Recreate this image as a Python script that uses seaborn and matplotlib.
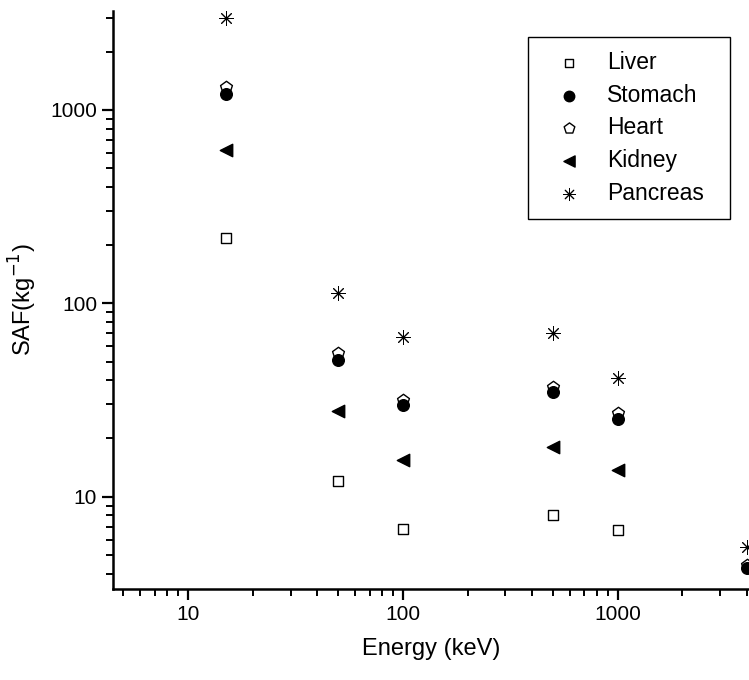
"""
plot.py
Specific absorbed fraction (SAF) vs. photon energy for several organs.
"""

import numpy as np
import pandas as pd
import matplotlib
matplotlib.use("Agg")
import matplotlib.pyplot as plt
import seaborn as sns
from matplotlib.ticker import LogLocator, NullFormatter, FixedLocator, FixedFormatter

# ── Data ─────────────────────────────────────────────────────────────────────

energy = [15, 50, 100, 500, 1000, 4000]

liver    = [218, 12.1, 6.8, 8.0, 6.75, np.nan]
stomach  = [1205, 50.9, 29.9, 34.9, 25.1, 4.27]
heart    = [1315, 55.2, 31.8, 36.8, 27.1, 4.44]
kidney   = [621, 27.7, 15.5, 18.1, 13.7, np.nan]
pancreas = [2990, 112.6, 66.7, 70.3, 41.1, 5.52]

organs = ["Liver", "Stomach", "Heart", "Kidney", "Pancreas"]
series = [liver, stomach, heart, kidney, pancreas]

x_ticks = [10, 100, 1000]
y_ticks = [10, 100, 1000]

# ── Styling ──────────────────────────────────────────────────────────────────

sns.set_style("ticks")
plt.rcParams["font.family"] = ["Liberation Sans", "DejaVu Sans"]
plt.rcParams["text.color"] = "black"
plt.rcParams["axes.labelcolor"] = "black"

styles = {
    "Liver":    dict(marker="s",       s=48, facecolor="white", linewidth=1.0),
    "Stomach":  dict(marker="o",       s=70, facecolor="black", linewidth=1.0),
    "Heart":    dict(marker="p",       s=80, facecolor="white", linewidth=1.0),
    "Kidney":   dict(marker="<",       s=80, facecolor="black", linewidth=1.0),
    "Pancreas": dict(marker=(8, 2, 0), s=95, facecolor="black", linewidth=0.7),
}

df = pd.DataFrame({"Energy": energy * len(organs),
                   "SAF": sum(series, []),
                   "Organ": np.repeat(organs, len(energy))})

fig = plt.figure(figsize=(7.49, 6.80), dpi=100)
ax = fig.add_axes([0.151, 0.1334, 0.849, 0.8505])

# draw Heart before Stomach so the filled circle sits on top, as in the source
order = ["Liver", "Heart", "Stomach", "Kidney", "Pancreas"]
for name in order:
    sub = df[df["Organ"] == name].dropna()
    st = styles[name]
    sns.scatterplot(data=sub, x="Energy", y="SAF", ax=ax, label=name,
                    marker=st["marker"], s=st["s"], color=st["facecolor"],
                    edgecolor="black", linewidth=st["linewidth"], zorder=3)

ax.set_xscale("log")
ax.set_yscale("log")
ax.set_xlim(4.48, 4083)
ax.set_ylim(3.32, 3250)

ax.xaxis.set_major_locator(FixedLocator(x_ticks))
ax.xaxis.set_major_formatter(FixedFormatter([str(t) for t in x_ticks]))
ax.yaxis.set_major_locator(FixedLocator(y_ticks))
ax.yaxis.set_major_formatter(FixedFormatter([str(t) for t in y_ticks]))
ax.xaxis.set_minor_locator(LogLocator(base=10, subs=np.arange(2, 10), numticks=20))
ax.yaxis.set_minor_locator(LogLocator(base=10, subs=np.arange(2, 10), numticks=20))
ax.xaxis.set_minor_formatter(NullFormatter())
ax.yaxis.set_minor_formatter(NullFormatter())

ax.tick_params(which="major", direction="out", length=8, width=1.6,
               labelsize=15, colors="black", labelcolor="black")
ax.tick_params(which="minor", direction="out", length=5, width=1.4, colors="black")

for side in ["top", "right"]:
    ax.spines[side].set_visible(False)
for side in ["left", "bottom"]:
    ax.spines[side].set_linewidth(1.8)
    ax.spines[side].set_color("black")

ax.set_xlabel("Energy (keV)", fontsize=17, labelpad=10, color="black")
ax.set_ylabel("SAF(kg$^{-1}$)", fontsize=17, labelpad=8, color="black")

# legend in the original series order; expand mode widens the box to the right
handles, labels = ax.get_legend_handles_labels()
lookup = dict(zip(labels, handles))
leg = ax.legend([lookup[n] for n in organs], organs,
                loc="upper left", bbox_to_anchor=(0.652, 0.955, 0.3176, 0.0),
                mode="expand", borderaxespad=0.0, fontsize=16.5,
                frameon=True, fancybox=False, edgecolor="black",
                framealpha=1.0, handletextpad=0.45, handlelength=2.4,
                borderpad=0.6, labelspacing=0.43, markerscale=0.9)
leg.get_frame().set_linewidth(1.0)
for t in leg.get_texts():
    t.set_color("black")

fig.savefig("out.png", dpi=100)
plt.close(fig)
